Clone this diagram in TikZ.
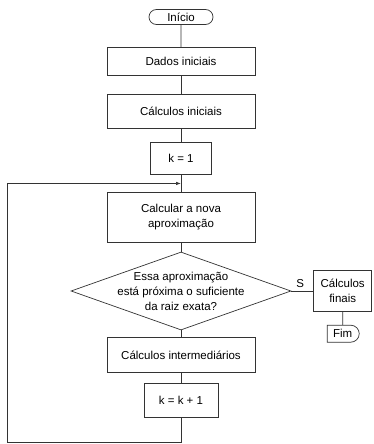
\documentclass[tikz,border=0pt]{standalone}
\usepackage{fontspec}
\setmainfont{Liberation Sans}
\usetikzlibrary{positioning,shapes.geometric,shapes.misc,arrows.meta,calc}

\begin{document}
\begin{tikzpicture}[
    x=1pt, y=1pt,
    font=\fontsize{11.5}{15}\selectfont,
    conn/.style={draw=black!80, line width=0.7pt},
    block/.style={
        conn,
        minimum width=148pt,
        minimum height=28pt,
        align=center
    },
    smallbox/.style={block, minimum width=61pt, minimum height=32pt},
    term/.style={conn, rounded rectangle, minimum width=66pt, minimum height=15pt, inner sep=1pt},
    decision/.style={conn, diamond, minimum width=220pt, minimum height=78pt, inner sep=0pt},
    arrow/.style={conn, -{Latex[length=5pt,width=3.5pt]}}
]

\path[use as bounding box] (0,0) rectangle (374,-444);

% ============================================================
% COLUNA PRINCIPAL
% ============================================================
\node[term] (inicio) at (181,-17) {Início};
\node[block, below=22pt of inicio] (dados) {Dados iniciais};
\node[block, minimum height=34pt, below=18pt of dados] (calcini) {Cálculos iniciais};
\node[smallbox, below=14pt of calcini] (k1) {k = 1};
\node[block, minimum height=50pt, below=17pt of k1] (calc) {Calcular a nova\\aproximação};
\node[decision, below=9pt of calc,
      label={[align=center]center:Essa aproximação\\está próxima o suficiente\\da raiz exata?}] (teste) {};
\node[block, minimum height=35pt, below=7pt of teste] (calcint) {Cálculos intermediários};
\node[smallbox, minimum width=74pt, minimum height=34pt, below=10pt of calcint] (kk1) {k = k + 1};

\draw[conn] (inicio) -- (dados);
\draw[conn] (dados) -- (calcini);
\draw[conn] (calcini) -- (k1);
\draw[conn] (k1) -- (calc);
\draw[conn] (calc) -- (teste);
\draw[conn] (teste) -- (calcint);
\draw[conn] (calcint) -- (kk1);

% ============================================================
% SAIDA
% ============================================================
\node[block, minimum width=58pt, minimum height=41pt, right=22pt of teste] (finais) {Cálculos\\finais};
\node[term, rounded rectangle left arc=none, minimum width=34pt, minimum height=17pt,
      below=13pt of finais] (fim) {Fim};

\draw[conn] (teste.east) -- node[above, pos=0.4] {S} (finais);
\draw[conn] (finais) -- (fim);

% ============================================================
% LACO
% ============================================================
\coordinate (volta) at ($(k1.south)!0.5!(calc.north)$);
\coordinate (fundo) at (7,-442);
\draw[arrow] (kk1.south) |- (fundo) |- (volta);

\end{tikzpicture}
\end{document}
